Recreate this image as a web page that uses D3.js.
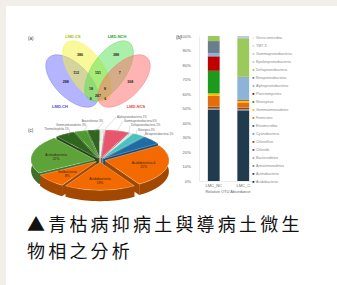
<!DOCTYPE html>
<html>
<head>
<meta charset="utf-8">
<script src="https://cdn.jsdelivr.net/npm/d3@7"></script>
<style>
body{margin:0;background:#f2efeb;}
svg{display:block;font-family:"Liberation Sans",Arial,sans-serif;}
</style>
</head>
<body>
<svg id="fig" width="337" height="285"></svg>
<script>
// ---- (a) venn data ----
var vennSets = ["LMD-CH","LMD-CS","LMD-NCH","LMD-NCS"];
var vennFill = ["#6b6bff","#f4f43a","#55e055","#ff6a6a"];
var vennText = ["#4a4ad6","#b5b500","#2f9f2f","#e04444"];
// region = bitmask of sets (1 CH, 2 CS, 4 NCH, 8 NCS)
var vennRegions = [1,2,4,8,3,6,12,9,5,10,7,14,13,11,15];
var vennCounts  = [288,386,388,368,112,151,7,9,9,6,18,8,11,7,267];

// ---- (b) stacked bars ----
var samples = ["LMC_NC","LMC_C"];
var taxa = ["Acidobacteria","Actinobacteria","Armatimonadetes","Bacteroidetes","Chlorobi",
  "Chloroflexi","Cyanobacteria","Elusimicrobia","Firmicutes","Gemmatimonadetes","Nitrospirae",
  "Planctomycetes","Alphaproteobacteria","Betaproteobacteria","Deltaproteobacteria",
  "Epsilonproteobacteria","Gammaproteobacteria","TM7-3","Verrucomicrobia"];
var taxaColors = ["#1f3b4d","#264478","#7f7f7f","#a5a5a5","#5b5b5b",
  "#8c4a1c","#4bacc6","#44546a","#e46c0a","#ffc000","#1b9a1b",
  "#c00000","#8db3d9","#6c7d8c","#9bc95c",
  "#c9c9c9","#b7cde3","#d9d9d9","#ebebeb"];
var abundNC = [49.0,0.3,0.2,0.3,0.1,1.2,0.1,0.1,7.5,1.6,15.6,10.0,2.3,8.2,3.5,0,0,0,0];
var abundC  = [48.5,0.3,0.2,0.3,0.1,1.0,0.1,0.1,3.6,1.0,0.4,0.3,15.5,0.5,26.6,0.1,1.4,0,0];
var yTicks = [0,10,20,30,40,50,60,70,80,90,100];

// ---- (c) pie ----
var pieNames = ["Alphaproteobacteria","Gammaproteobacteria","Deltaproteobacteria","Nitrospira",
  "Betaproteobacteria","Acidobacteria-6","Acidobacteriia","Solibacteres","Actinobacteria",
  "Thermoleophilia","Gemmatimonadetes","Anaerolineae"];
var pieValues = [1,6,1,3,5,25,18,8,22,5,3,3];
var pieColors = ["#eeeeee","#e8566e","#d6ecec","#45c3c1","#1f6ba6","#f26a00","#f26a00","#f26a00",
  "#5ea33a","#2f661d","#4f9a2e","#2f661d"];

var caption = ["▲青枯病抑病土與導病土微生","物相之分析"];

var W = 337, H = 285;
var svg = d3.select("#fig");
svg.append("rect").attr("x",6).attr("y",6).attr("width",W-6).attr("height",H-6).attr("fill","#fff");

//---------------- (a) venn ----------------
var ell = [
  {cx:72, cy:81, rx:33, ry:17, rot:45},
  {cx:87, cy:71, rx:35, ry:17, rot:55},
  {cx:109, cy:71, rx:35, ry:17, rot:-55},
  {cx:124, cy:81, rx:33, ry:17, rot:-45}
];
var gA = svg.append("g");
gA.append("text").attr("x",28).attr("y",40).attr("font-size",4.5).attr("fill","#333").text("(a)");
ell.forEach(function(e,i){
  gA.append("ellipse").attr("cx",e.cx).attr("cy",e.cy).attr("rx",e.rx).attr("ry",e.ry)
    .attr("transform","rotate("+e.rot+","+e.cx+","+e.cy+")")
    .attr("fill",vennFill[i]).attr("fill-opacity",0.5)
    .attr("stroke",vennFill[i]).attr("stroke-width",0.4);
});

function inside(e,x,y){
  var t = -e.rot*Math.PI/180, dx = x-e.cx, dy = y-e.cy;
  var u = dx*Math.cos(t)-dy*Math.sin(t), v = dx*Math.sin(t)+dy*Math.cos(t);
  return (u*u)/(e.rx*e.rx)+(v*v)/(e.ry*e.ry) <= 1;
}
// centroid of each region found by sampling
var acc = {};
for (var x=30; x<170; x+=0.5){
  for (var y=30; y<115; y+=0.5){
    var m = 0;
    ell.forEach(function(e,i){ if(inside(e,x,y)) m |= (1<<i); });
    if(!m) continue;
    if(!acc[m]) acc[m] = {x:0,y:0,n:0};
    acc[m].x += x; acc[m].y += y; acc[m].n++;
  }
}
vennRegions.forEach(function(r,i){
  var a = acc[r]; if(!a) return;
  gA.append("text").attr("x",a.x/a.n).attr("y",a.y/a.n+1.2).attr("text-anchor","middle")
    .attr("font-size",3.6).attr("font-weight","bold").attr("fill","#222").text(vennCounts[i]);
});
var setLabelPos = [[60,108],[73,38],[117,38],[136,108]];
vennSets.forEach(function(s,i){
  gA.append("text").attr("x",setLabelPos[i][0]).attr("y",setLabelPos[i][1]).attr("text-anchor","middle")
    .attr("font-size",4).attr("font-weight","bold").attr("fill",vennText[i]).text(s);
});

//---------------- (b) bars ----------------
var gB = svg.append("g");
gB.append("text").attr("x",176).attr("y",39).attr("font-size",4.5).attr("fill","#333").text("(b)");
var y = d3.scaleLinear().domain([0,100]).range([181,36]);
var x = d3.scaleBand().domain(samples).range([199,258]).paddingInner(0.6).paddingOuter(0.3);

var yAxis = gB.append("g").attr("transform","translate(199,0)")
  .call(d3.axisLeft(y).tickValues(yTicks).tickSize(0).tickPadding(8).tickFormat(function(d){return d+"%";}));
yAxis.select(".domain").attr("stroke","#d9d9d9").attr("stroke-width",0.5);
yAxis.selectAll("text").attr("font-size",4.2).attr("fill","#666").attr("font-family","Liberation Sans, Arial, sans-serif");

var xAxis = gB.append("g").attr("transform","translate(0,181)")
  .call(d3.axisBottom(x).tickSize(0).tickPadding(3));
xAxis.select(".domain").attr("stroke","#d9d9d9").attr("stroke-width",0.5);
xAxis.selectAll("text").attr("font-size",4).attr("fill","#666").attr("font-family","Liberation Sans, Arial, sans-serif");
gB.append("text").attr("x",228).attr("y",193).attr("text-anchor","middle").attr("font-size",4)
  .attr("fill","#666").text("Relative OTU Abundance");

var rows = [abundNC, abundC];
samples.forEach(function(s,si){
  var base = 0;
  taxa.forEach(function(t,ti){
    var v = rows[si][ti];
    if(v>0){
      gB.append("rect").attr("x",x(s)).attr("width",x.bandwidth())
        .attr("y",y(base+v)).attr("height",y(base)-y(base+v)).attr("fill",taxaColors[ti]);
    }
    base += v;
  });
});

// legend, top entry is top of stack
var legTaxa = taxa.slice().reverse();
var ly = d3.scalePoint().domain(legTaxa).range([38,182]);
legTaxa.forEach(function(t){
  var ci = taxa.indexOf(t);
  gB.append("rect").attr("x",252.5).attr("y",ly(t)-1).attr("width",1.8).attr("height",1.8).attr("fill",taxaColors[ci]);
  gB.append("text").attr("x",256).attr("y",ly(t)+1.2).attr("font-size",3.6).attr("fill","#888").text(t);
});

//---------------- (c) 3d pie ----------------
var gC = svg.append("g");
gC.append("text").attr("x",28).attr("y",132).attr("font-size",4.5).attr("fill","#333").text("(c)");
var pc = {cx:100, cy:160, rx:64, ry:28, depth:11, explode:5};
var arcs = d3.pie().sort(null)(pieValues);

function pt(a, r, o){
  return [pc.cx + o[0] + pc.rx*r*Math.sin(a), pc.cy + o[1] - pc.ry*r*Math.cos(a)];
}
function arcPts(a0,a1,o,dz){
  var n = Math.max(2, Math.ceil((a1-a0)/0.05)), p = [];
  for (var k=0;k<=n;k++){
    var q = pt(a0+(a1-a0)*k/n,1,o); p.push([q[0],q[1]+dz]);
  }
  return p;
}
function offset(m){
  return [pc.explode*Math.sin(m), -pc.explode*Math.cos(m)*pc.ry/pc.rx];
}
var line = d3.line();
var order = arcs.map(function(d,i){ return i; }).sort(function(a,b){
  var ma = (arcs[a].startAngle+arcs[a].endAngle)/2, mb = (arcs[b].startAngle+arcs[b].endAngle)/2;
  return Math.cos(mb) - Math.cos(ma);
});
order.forEach(function(i){
  var d = arcs[i], m = (d.startAngle+d.endAngle)/2, o = offset(m);
  var top = pieColors[i], side = d3.color(top).darker(1.1).formatHex();
  var c0 = pt(0,0,o);
  // radial walls
  [d.startAngle, d.endAngle].forEach(function(a){
    var e = pt(a,1,o);
    gC.append("path").attr("d", line([c0,e,[e[0],e[1]+pc.depth],[c0[0],c0[1]+pc.depth]])+"Z")
      .attr("fill",side);
  });
  // outer wall
  var up = arcPts(d.startAngle,d.endAngle,o,0), dn = arcPts(d.startAngle,d.endAngle,o,pc.depth).reverse();
  gC.append("path").attr("d", line(up.concat(dn))+"Z").attr("fill",side);
  // top face
  gC.append("path").attr("d", line([c0].concat(up))+"Z").attr("fill",top)
    .attr("stroke","#fff").attr("stroke-width",0.3);
});

// labels: big slices inside, small ones with leader lines above the pie
var total = d3.sum(pieValues), kr = 0, kl = 0;
arcs.forEach(function(d,i){
  var m = (d.startAngle+d.endAngle)/2, o = offset(m);
  var pct = Math.round(pieValues[i]/total*100)+"%";
  if(pieValues[i] >= 8){
    var c = pt(m,0.62,o);
    var t = gC.append("text").attr("x",c[0]).attr("y",c[1]).attr("text-anchor","middle")
      .attr("font-size",3.4).attr("fill","#3a2200");
    t.append("tspan").attr("x",c[0]).attr("dy",0).text(pieNames[i]);
    t.append("tspan").attr("x",c[0]).attr("dy",4).text(pct);
    return;
  }
  var s = pt(m,0.9,o), tx, ty, anchor;
  if(Math.sin(m) >= 0){
    tx = pc.cx + 16 + kr*7; ty = pc.cy - pc.ry - 15 + kr*4.3; anchor = "start"; kr++;
  } else {
    tx = pc.cx - 30 + kl*17; ty = pc.cy - pc.ry - 3 - kl*3.7; anchor = "end"; kl++;
  }
  gC.append("path").attr("d", line([s,[tx,ty]])).attr("stroke","#999").attr("stroke-width",0.3).attr("fill","none");
  gC.append("text").attr("x",tx+(anchor=="start"?1:-1)).attr("y",ty+0.8).attr("text-anchor",anchor)
    .attr("font-size",2.8).attr("fill","#666").text(pieNames[i]+" "+pct);
});

//---------------- caption ----------------
caption.forEach(function(c,i){
  svg.append("text").attr("x",27).attr("y",231+i*27)
    .attr("font-family","'Noto Sans CJK TC','Noto Sans CJK SC',sans-serif")
    .attr("font-size",18).attr("letter-spacing",3.2).attr("fill","#111").text(c);
});
</script>
</body>
</html>
